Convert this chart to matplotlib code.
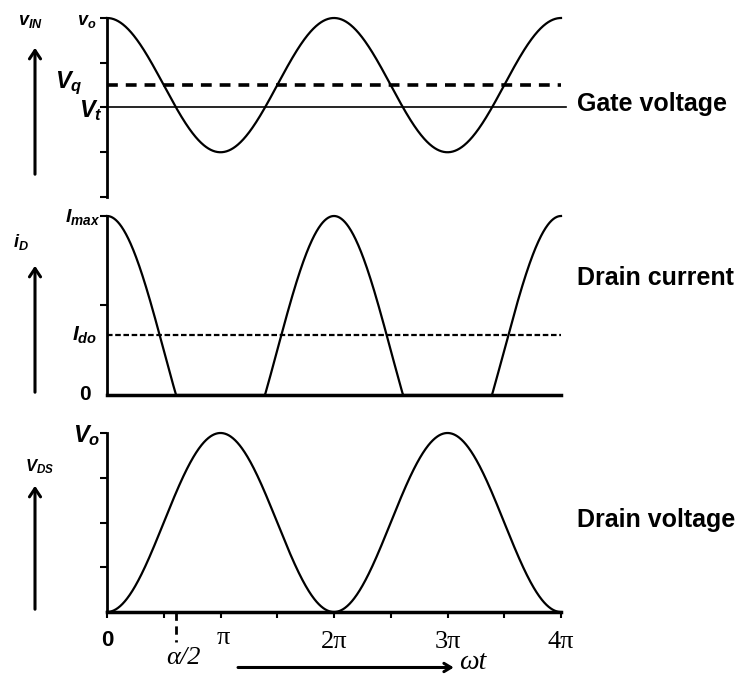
import numpy as np
import matplotlib
matplotlib.use("Agg")
import matplotlib.pyplot as plt

plt.rcParams["font.family"] = ["Liberation Sans", "DejaVu Sans"]
plt.rcParams["mathtext.fontset"] = "custom"
plt.rcParams["mathtext.it"] = "Liberation Sans:italic:bold"
plt.rcParams["mathtext.rm"] = "Liberation Sans:bold"
plt.rcParams["mathtext.bf"] = "Liberation Sans:bold"

# --- values ---
# gate voltage panel (0..4 grid units)
gate_ticks = [0, 1, 2, 3, 4]
gate_peak = 4.0      # V_o
gate_bias = 2.5      # V_q
gate_thresh = 2.0    # V_t

# drain current panel (fraction of I_max)
id_ticks = [0.5, 1.0]
id_max = 1.0
id_dc = 0.335        # I_do

# drain voltage panel (0..4 grid units)
vds_ticks = [1, 2, 3, 4]
vds_peak = 4.0       # V_o

# x axis, in multiples of pi
x_tick_pi = [0, 0.5, 1, 1.5, 2, 2.5, 3, 3.5, 4]
x_label_pi = [0, 1, 2, 3, 4]
alpha_half_pi = 0.61

W, H = 747, 675
fig = plt.figure(figsize=(W / 100, H / 100), dpi=100)


def box(top, bottom):
    return [107 / W, 1 - bottom / H, (561 - 107) / W, (bottom - top) / H]


ax1 = fig.add_axes(box(18, 197))
ax2 = fig.add_axes(box(216, 395))
ax3 = fig.add_axes(box(433, 612))

theta = np.linspace(0, 4 * np.pi, 1000)
vin = gate_bias + (gate_peak - gate_bias) * np.cos(theta)
i_d = id_max * np.clip((vin - gate_thresh) / (gate_peak - gate_thresh), 0, None)
vds = vds_peak * (1 - np.cos(theta)) / 2

for ax in (ax1, ax2, ax3):
    ax.set_xlim(0, 4 * np.pi)
    for s in ("top", "right"):
        ax.spines[s].set_visible(False)
    ax.spines["left"].set_linewidth(2)
    ax.spines["bottom"].set_linewidth(2.5)
    ax.tick_params(axis="y", direction="out", length=5, width=1.5, labelleft=False)
    ax.tick_params(axis="x", length=0, labelbottom=False)
    ax.patch.set_alpha(0)

# gate voltage
ax1.set_ylim(0, 4)
ax1.spines["bottom"].set_visible(False)
ax1.set_yticks(gate_ticks)
ax1.plot(theta, vin, color="black", lw=1.6, clip_on=False)
ax1.plot([0, 4.04 * np.pi], [gate_thresh] * 2, color="black", lw=1.2, clip_on=False)
ax1.plot([0, 4 * np.pi], [gate_bias] * 2, color="black", lw=2.6,
         dashes=(3, 2.2), clip_on=False)

# drain current
ax2.set_ylim(0, 1)
ax2.set_yticks(id_ticks)
ax2.plot(theta, i_d, color="black", lw=1.6, clip_on=False)
ax2.plot([0, 4 * np.pi], [id_dc] * 2, color="black", lw=1.6,
         dashes=(2.5, 1.2), clip_on=False)

# drain voltage
ax3.set_ylim(0, 4)
ax3.set_yticks(vds_ticks)
ax3.set_xticks([p * np.pi for p in x_tick_pi])
ax3.tick_params(axis="x", direction="out", length=4, width=1.5)
ax3.plot(theta, vds, color="black", lw=1.6, clip_on=False)
ax3.plot([alpha_half_pi * np.pi] * 2, [0, -0.68], color="black", lw=2,
         dashes=(3, 2), clip_on=False)

# right-hand captions
cap = dict(fontsize=18, fontweight="bold", va="center", ha="left")
ax1.annotate("Gate voltage", xy=(4 * np.pi, gate_thresh), xytext=(16, 4),
             textcoords="offset pixels", **cap)
ax2.annotate("Drain current", xy=(4 * np.pi, 0.5), xytext=(16, 27),
             textcoords="offset pixels", **cap)
ax3.annotate("Drain voltage", xy=(4 * np.pi, 2), xytext=(16, 3),
             textcoords="offset pixels", **cap)


# left-hand level labels
def lab(ax, y, txt, dx, dy, size, **kw):
    ax.annotate(txt, xy=(0, y), xytext=(dx, dy), textcoords="offset pixels",
                ha="center", va="center", fontsize=size, **kw)


lab(ax1, gate_peak, r"$v_{o}$", -20, -3, 13)
lab(ax1, gate_bias, r"$V_{q}$", -38, 2, 17)
lab(ax1, gate_thresh, r"$V_{t}$", -16, -3, 17)
lab(ax2, id_max, r"$I_{max}$", -24, -1, 14)
lab(ax2, id_dc, r"$I_{do}$", -22, 0, 15)
lab(ax2, 0, "0", -22, 0, 15, fontweight="bold")
lab(ax3, vds_peak, r"$V_{o}$", -20, -3, 17)

# quantity names with up arrows
names = [(ax1, r"$v_{IN}$", 30, 22, 45, 177, 13),
         (ax2, r"$i_{D}$", 21, 242, 263, 395, 13),
         (ax3, r"$V_{DS}$", 40, 467, 483, 612, 12)]
for ax, txt, tx, ty, a_top, a_bot, size in names:
    fig.text(tx / W, 1 - ty / H, txt, ha="center", va="center", fontsize=size)
    ax_x = 35 / W
    fig.add_artist(matplotlib.patches.FancyArrowPatch(
        (ax_x, 1 - a_bot / H), (ax_x, 1 - a_top / H), transform=fig.transFigure,
        arrowstyle="->,head_length=6,head_width=4", lw=2.2, color="black",
        mutation_scale=1))

# x axis labels
serif = dict(family=["Liberation Serif", "DejaVu Serif"], fontsize=19)
for p in x_label_pi:
    if p == 0:
        ax3.annotate("0", xy=(0, 0), xytext=(0, -28), textcoords="offset pixels",
                     ha="center", va="center", fontsize=16, fontweight="bold")
    elif p == 1:
        ax3.annotate("\u03c0", xy=(np.pi, 0), xytext=(3, -26),
                     textcoords="offset pixels", ha="center", va="center", **serif)
    else:
        ax3.annotate(f"{p}\u03c0", xy=(p * np.pi, 0), xytext=(0, -30),
                     textcoords="offset pixels", ha="center", va="center", **serif)

ax3.annotate("\u03b1/2", xy=(alpha_half_pi * np.pi, 0), xytext=(7, -46),
             textcoords="offset pixels", ha="center", va="center",
             family=["Liberation Serif", "DejaVu Serif"], fontsize=19,
             style="italic")
ax3.annotate("", xy=(3.08 * np.pi, -0.31), xytext=(1.13 * np.pi, -0.31),
             xycoords=("data", "axes fraction"),
             textcoords=("data", "axes fraction"),
             arrowprops=dict(arrowstyle="->,head_length=0.5,head_width=0.3",
                             lw=2.2, color="black"))
ax3.annotate("\u03c9t", xy=(3.1 * np.pi, -0.28), xycoords=("data", "axes fraction"),
             ha="left", va="center", family=["Liberation Serif", "DejaVu Serif"],
             fontsize=20, style="italic")

fig.savefig("out.png", dpi=100)
